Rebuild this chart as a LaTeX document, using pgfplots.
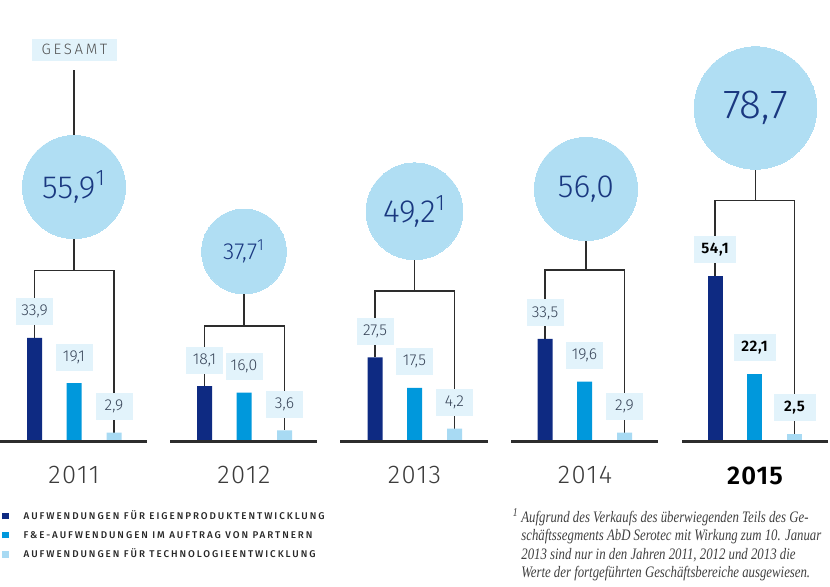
\documentclass[border=0pt]{standalone}
\usepackage{pgfplots}
\pgfplotsset{compat=1.18}
\usepackage{fontspec}
\setmainfont{Fira Sans}
\IfFontExistsTF{Fira Sans Light}{\newfontfamily\lightfont{Fira Sans Light}}{\newfontfamily\lightfont{Fira Sans}}
\IfFontExistsTF{Fira Sans Light}{\newfontfamily\yearfont{Fira Sans Light}[LetterSpace=6]}{\newfontfamily\yearfont{Fira Sans}[LetterSpace=6]}
\IfFontExistsTF{Fira Sans Light}{\newfontfamily\gesfont{Fira Sans Light}[LetterSpace=18]}{\newfontfamily\gesfont{Fira Sans}[LetterSpace=18]}
\IfFontExistsTF{Fira Sans SemiBold}{\newfontfamily\boldfont{Fira Sans SemiBold}[LetterSpace=4]}{\newcommand\boldfont{\bfseries}}
\IfFontExistsTF{Fira Sans Medium}{\newfontfamily\legfont{Fira Sans Medium}[LetterSpace=20]}{\newfontfamily\legfont{Fira Sans}[LetterSpace=20]}
\newfontfamily\fnfont{Liberation Serif}[FakeStretch=0.80]

\definecolor{cdark}{RGB}{14,42,130}
\definecolor{cmed}{RGB}{0,152,220}
\definecolor{clight}{RGB}{168,218,243}
\definecolor{ccirc}{RGB}{176,222,243}
\definecolor{cbox}{RGB}{226,243,251}
\definecolor{clab}{RGB}{55,68,88}
\definecolor{ctext}{RGB}{26,56,128}
\definecolor{cline}{RGB}{45,45,45}
\definecolor{cyear}{RGB}{60,60,60}

\tikzset{
  barlab/.style={fill=cbox, text=clab, inner sep=0pt, outer sep=0pt,
     minimum width=18.5pt, minimum height=13.5pt, anchor=south, yshift=6.25pt,
     font=\lightfont\fontsize{7.9}{8}\selectfont},
  barlabB/.style={fill=cbox, text=black, inner sep=0pt, outer sep=0pt,
     minimum width=21pt, minimum height=13.5pt, anchor=south, yshift=6.25pt,
     font=\boldfont\fontsize{7.6}{8}\selectfont},
  legtext/.style={anchor=base west, inner sep=0pt, text=black!85,
     font=\legfont\fontsize{4.9}{5}\selectfont},
}
\pgfplotsset{
  conn/.style={draw=cline, line width=0.8pt, mark=none, forget plot},
  base/.style={draw=cline, line width=1.3pt, mark=none, forget plot},
  mybar/.style={ybar, bar width=7.5pt, bar shift=0pt, draw=none, forget plot,
     point meta=y,
     nodes near coords={\pgfmathprintnumber[fixed,fixed zerofill,precision=1,use comma]{\pgfplotspointmeta}}},
  % circle: #1 font size, #2 footnote mark, #3 total (radius ~ sqrt(total))
  circ/.style n args={3}{only marks, mark=*, forget plot, color=ccirc,
     mark size={3.45*sqrt(#3)},
     mark options={draw=ccirc, fill=ccirc, line width=0pt},
     point meta=explicit,
     nodes near coords={\pgfmathprintnumber[fixed,fixed zerofill,precision=1,use comma]{\pgfplotspointmeta}#2},
     nodes near coords align=center,
     every node near coord/.append style={anchor=center, text=ctext, inner sep=0pt,
        font=\lightfont\fontsize{#1}{#1}\selectfont}},
}

\begin{document}
\begin{tikzpicture}
\begin{axis}[
  at={(0,0)}, anchor=south west,
  scale only axis, width=415pt, height=293.5pt,
  xmin=0, xmax=830, ymin=-47.55, ymax=144.28,
  hide axis, clip=false,
  /pgf/number format/assume math mode=true,
]
% connectors (tree lines), bracket at the group total
\addplot[conn] coordinates {(74,83.17) (74,121.4)};
\addplot[conn] coordinates {(34.5,33.9) (34.5,55.9) (114,55.9) (114,2.9)};
\addplot[conn] coordinates {(74,55.9) (74,83.17)};
\addplot[conn] coordinates {(204.5,18.1) (204.5,37.7) (284.5,37.7) (284.5,3.6)};
\addplot[conn] coordinates {(244,37.7) (244,62.09)};
\addplot[conn] coordinates {(375,27.5) (375,49.2) (454.5,49.2) (454.5,4.2)};
\addplot[conn] coordinates {(414.5,49.2) (414.5,75.23)};
\addplot[conn] coordinates {(545,33.5) (545,56.0) (624.5,56.0) (624.5,2.9)};
\addplot[conn] coordinates {(586,56.0) (586,82.52)};
\addplot[conn] coordinates {(715,54.1) (715,78.7) (794.5,78.7) (794.5,2.5)};
\addplot[conn] coordinates {(755.5,78.7) (755.5,108.99)};

% bars 2011-2014
\addplot[mybar, fill=cdark, every node near coord/.append style={barlab}]
  coordinates {(34.5,33.9) (204.5,18.1) (375,27.5) (545,33.5)};
\addplot[mybar, fill=cmed, every node near coord/.append style={barlab}]
  coordinates {(74,19.1) (244,16.0) (414.5,17.5) (584.5,19.6)};
\addplot[mybar, fill=clight, every node near coord/.append style={barlab}]
  coordinates {(114,2.9) (284.5,3.6) (454.5,4.2) (624.5,2.9)};
% bars 2015
\addplot[mybar, fill=cdark, every node near coord/.append style={barlabB}]
  coordinates {(715,54.1)};
\addplot[mybar, fill=cmed, every node near coord/.append style={barlabB}]
  coordinates {(754.5,22.1)};
\addplot[mybar, fill=clight, every node near coord/.append style={barlabB}]
  coordinates {(794.5,2.5)};

% baselines
\addplot[base] coordinates {(0,0) (147,0)};
\addplot[base] coordinates {(170,0) (317,0)};
\addplot[base] coordinates {(340,0) (488,0)};
\addplot[base] coordinates {(511,0) (658,0)};
\addplot[base] coordinates {(682,0) (828,0)};

% circles (area proportional to total)
\addplot[circ={16}{\textsuperscript{1}}{55.9}] coordinates {(74,83.17) [55.9]};
\addplot[circ={11.6}{\textsuperscript{1}}{37.7}] coordinates {(244,62.09) [37.7]};
\addplot[circ={16}{\textsuperscript{1}}{49.2}] coordinates {(414.5,75.23) [49.2]};
\addplot[circ={16}{}{56.0}] coordinates {(586,82.52) [56.0]};
\addplot[circ={20.3}{}{78.7}] coordinates {(755.5,108.99) [78.7]};

% legend
\node[legtext] at (axis cs:1.7,-25.43) {\textcolor{cdark}{\rule{3.3pt}{3.3pt}}\hspace{7.5pt}AUFWENDUNGEN FÜR EIGENPRODUKTENTWICKLUNG};
\node[legtext] at (axis cs:1.7,-31.70) {\textcolor{cmed}{\rule{3.3pt}{3.3pt}}\hspace{7.5pt}F\&E-AUFWENDUNGEN IM AUFTRAG VON PARTNERN};
\node[legtext] at (axis cs:1.7,-38.00) {\textcolor{clight}{\rule{3.3pt}{3.3pt}}\hspace{7.5pt}AUFWENDUNGEN FÜR TECHNOLOGIEENTWICKLUNG};

% texts
\node[fill=cbox, minimum width=42.5pt, minimum height=11pt, inner sep=0pt] at (axis cs:74.5,127.9) {};
\node[text=cyear!90, font=\gesfont\fontsize{7.5}{8}\selectfont] at (axis cs:74.5,128.27) {GESAMT};
\node[text=cyear, font=\yearfont\fontsize{12.8}{14}\selectfont] at (axis cs:74,-11.1) {2011};
\node[text=cyear, font=\yearfont\fontsize{12.8}{14}\selectfont] at (axis cs:244,-11.1) {2012};
\node[text=cyear, font=\yearfont\fontsize{12.8}{14}\selectfont] at (axis cs:414.5,-11.1) {2013};
\node[text=cyear, font=\yearfont\fontsize{12.8}{14}\selectfont] at (axis cs:585,-11.1) {2014};
\node[text=black, font=\boldfont\fontsize{12.8}{14}\selectfont] at (axis cs:755,-11.1) {2015};
\node[anchor=base west, align=left, inner sep=0pt, text=black!75,
  font=\fnfont\itshape\fontsize{8}{9.17}\selectfont] at (axis cs:521,-44.4)
  {\llap{\textsuperscript{1}\,}Aufgrund des Verkaufs des überwiegenden Teils des Ge-\\
   schäftssegments AbD Serotec mit Wirkung zum 10. Januar\\
   2013 sind nur in den Jahren 2011, 2012 und 2013 die\\
   Werte der fortgeführten Geschäftsbereiche ausgewiesen.};
\end{axis}
\pgfresetboundingbox
\path (current axis.south west) rectangle (current axis.north east);
\end{tikzpicture}
\end{document}
